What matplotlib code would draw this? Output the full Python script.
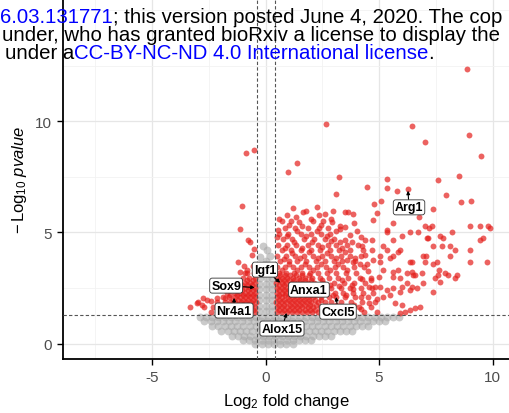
import numpy as np
import matplotlib.pyplot as plt
from matplotlib.ticker import MultipleLocator

plt.rcParams['font.family'] = ['Liberation Sans', 'DejaVu Sans']
plt.rcParams['mathtext.fontset'] = 'custom'
plt.rcParams['mathtext.rm'] = 'Liberation Sans'
plt.rcParams['mathtext.it'] = 'Liberation Sans:italic'
plt.rcParams['mathtext.bf'] = 'Liberation Sans:bold'
plt.rcParams['axes.unicode_minus'] = False

# ---- data ----
# significant, up-regulated: dense part as rows (y, x values)
up_rows_y = [1.42, 1.64, 1.86, 2.08, 2.3, 2.52, 2.74, 2.96, 3.2, 3.45,
             3.7, 3.95, 4.2, 4.45, 4.7, 4.95, 5.2, 5.5, 5.8]
up_rows_x = [
    [0.48, 0.7, 0.93, 1.15, 1.38, 1.6, 1.83, 2.05, 2.3, 2.6, 2.95, 3.35, 3.8, 4.35, 4.9],
    [0.5, 0.72, 0.95, 1.18, 1.4, 1.62, 1.85, 2.08, 2.4, 2.75, 3.15, 3.6, 4.1, 4.65],
    [0.47, 0.68, 0.9, 1.13, 1.35, 1.58, 1.8, 2.02, 2.3, 2.6, 2.9, 3.3, 3.75, 4.25, 4.8],
    [0.52, 0.74, 0.97, 1.2, 1.42, 1.65, 1.88, 2.1, 2.45, 2.8, 3.1, 3.5, 3.95, 4.5],
    [0.49, 0.7, 0.92, 1.15, 1.37, 1.6, 1.83, 2.05, 2.35, 2.7, 3.05, 3.4, 3.85, 4.3, 4.75],
    [0.5, 0.73, 0.95, 1.18, 1.4, 1.63, 1.86, 2.1, 2.5, 2.9, 3.3, 3.7, 4.2, 4.7],
    [0.47, 0.7, 0.92, 1.15, 1.38, 1.6, 1.85, 2.15, 2.55, 3.0, 3.45, 3.9, 4.4],
    [0.5, 0.72, 0.95, 1.2, 1.45, 1.75, 2.05, 2.4, 2.8, 3.2, 3.65, 4.15, 4.65],
    [0.6, 0.9, 1.25, 1.6, 1.95, 2.3, 2.7, 3.1, 3.55, 4.0],
    [0.5, 0.85, 1.2, 1.55, 1.9, 2.25, 2.65, 3.05, 3.4, 3.9, 4.35],
    [0.65, 1.05, 1.4, 1.8, 2.2, 2.6, 3.0, 3.35, 3.95],
    [0.5, 0.9, 1.3, 1.7, 2.1, 2.5, 2.9, 3.3, 3.7, 4.2],
    [0.7, 1.1, 1.55, 2.0, 2.4, 2.85, 3.25, 3.7],
    [0.55, 0.95, 1.35, 1.85, 2.3, 2.75, 3.1, 3.6, 4.05],
    [0.75, 1.15, 1.7, 2.15, 2.6, 3.0],
    [0.6, 1.0, 1.55, 2.0, 2.45, 2.85],
    [0.85, 1.3, 1.85, 2.35, 2.75],
    [0.7, 1.1, 2.1, 2.55],
    [0.95, 2.35],
]
# in-between rows of the solid block next to the cut-off
up_fill_y = [1.53, 1.75, 1.97, 2.19, 2.41, 2.63, 2.85, 3.07]
up_fill_x = [
    [0.59, 0.81, 1.04, 1.27, 1.49, 1.72, 1.94, 2.17, 2.45],
    [0.6, 0.83, 1.06, 1.29, 1.51, 1.73, 1.96, 2.2],
    [0.58, 0.8, 1.02, 1.25, 1.47, 1.7, 1.92, 2.16, 2.42],
    [0.61, 0.84, 1.07, 1.3, 1.53, 1.76, 1.98, 2.24],
    [0.59, 0.81, 1.04, 1.26, 1.49, 1.72, 1.95, 2.2],
    [0.6, 0.83, 1.06, 1.29, 1.52, 1.75, 1.97],
    [0.58, 0.81, 1.03, 1.27, 1.5, 1.73, 2.0],
    [0.62, 0.85, 1.08, 1.33, 1.6, 1.9],
]
# significant, up-regulated: scattered points (log2FC, -log10 p)
up_scatter = [
    (2.66, 9.86), (8.87, 12.34), (1.38, 8.11), (0.99, 7.70), (3.23, 7.48),
    (3.1, 6.71), (4.47, 7.03), (2.26, 6.13), (1.65, 5.9), (2.97, 5.95),
    (3.5, 5.9), (3.63, 5.9), (3.85, 5.81), (2.93, 5.45), (3.28, 5.27),
    (3.89, 5.41), (1.47, 5.45), (6.45, 9.77), (8.96, 9.37), (7.02, 9.05),
    (9.49, 8.42), (8.52, 7.52), (7.59, 7.34), (5.35, 7.39), (5.35, 6.98),
    (5.79, 6.85), (7.95, 6.67), (8.61, 6.35), (9.05, 6.4), (5.09, 6.4),
    (4.78, 6.26), (4.91, 5.86), (7.37, 6.04), (6.76, 5.68), (4.73, 5.54),
    (7.02, 5.27), (7.33, 5.27), (9.0, 5.27), (9.44, 5.27), (9.8, 5.27),
    (9.89, 5.18), (5.61, 5.41), (3.28, 5.14), (3.5, 5.23), (4.03, 5.05),
    (5.35, 5.09), (6.36, 5.0), (6.71, 5.0), (7.2, 5.18), (9.58, 4.73),
    (4.38, 4.68), (4.69, 4.64), (3.5, 4.68), (3.28, 4.55), (5.61, 4.68),
    (7.11, 4.73), (7.68, 4.82), (7.77, 4.37), (8.12, 4.37), (8.34, 4.23),
    (7.37, 4.37), (5.92, 4.19), (5.35, 4.23), (4.29, 4.23), (4.69, 4.23),
    (7.06, 3.92), (6.36, 3.65), (8.12, 3.96), (5.48, 3.87), (4.73, 3.78),
    (5.04, 3.69), (4.47, 3.56), (3.58, 3.78), (3.85, 3.65), (7.55, 3.65),
    (7.64, 3.33), (6.89, 3.2), (6.23, 3.2), (6.58, 3.11), (5.61, 3.24),
    (8.43, 3.11), (5.35, 5.0), (5.17, 4.37), (5.04, 3.92), (6.0, 4.82),
    (7.15, 4.77), (7.81, 4.77), (8.21, 5.0), (9.0, 4.19), (9.44, 4.68),
    (9.0, 3.65), (9.75, 3.69), (5.61, 3.92), (5.83, 4.14), (6.93, 3.92),
    (7.02, 3.65), (7.37, 3.56), (6.45, 3.65), (5.17, 3.33), (5.83, 3.33),
    (5.61, 3.02), (5.92, 2.97), (6.45, 3.24), (6.49, 3.11), (7.46, 2.97),
    (7.59, 3.11), (7.9, 3.2), (8.03, 3.11), (8.34, 2.97), (7.68, 2.79),
    (5.04, 2.57), (5.35, 2.43), (5.61, 2.52), (6.0, 2.57), (6.23, 2.75),
    (6.45, 2.57), (6.67, 2.52), (6.93, 2.75), (5.17, 2.12), (5.48, 2.21),
    (5.92, 2.34), (6.36, 2.43), (7.37, 2.34), (5.7, 1.85), (6.0, 1.76),
    (5.92, 1.4), (6.14, 1.44), (6.36, 1.53), (6.58, 1.62), (6.8, 1.67),
    (6.27, 6.94), (4.9, 2.0), (4.8, 2.55), (5.0, 3.0), (4.65, 2.85),
    (0.7, 3.32), (1.05, 3.58), (1.4, 3.3), (1.75, 3.6), (2.1, 3.33), (2.45, 3.57),
    (2.85, 3.3), (3.2, 3.58), (3.6, 3.32), (4.15, 3.6), (4.5, 3.25),
    (0.8, 3.82), (1.15, 4.08), (1.5, 3.85), (1.9, 4.1), (2.3, 3.83), (2.7, 4.07),
    (3.1, 3.85), (3.5, 4.1), (3.95, 3.85), (4.4, 4.0),
    (0.85, 4.32), (1.25, 4.58), (1.6, 4.3), (2.05, 4.57), (2.5, 4.33), (2.9, 4.6),
    (3.35, 4.3), (3.8, 4.55), (4.25, 4.4),
    (0.5, 4.8), (0.95, 4.85), (1.4, 5.05), (1.8, 4.82), (2.25, 5.07), (2.7, 4.85),
    (3.1, 5.08), (3.7, 4.9), (4.2, 4.8),
    (1.05, 5.35), (1.6, 5.3), (2.0, 5.62), (2.45, 5.33), (2.9, 5.6), (0.55, 5.1),
    (1.35, 5.7), (1.8, 5.95), (2.6, 5.85), (1.2, 6.1), (0.6, 5.6),
    (2.6, 2.42), (2.95, 2.18), (3.25, 2.6), (3.55, 2.2), (3.85, 2.45), (4.2, 2.1),
    (4.55, 2.55), (2.75, 1.55), (3.1, 1.75), (3.45, 1.5), (3.9, 1.75), (4.2, 1.55),
    (4.55, 1.85), (2.5, 2.85), (2.85, 2.65), (3.35, 2.85), (3.8, 2.65), (4.25, 2.9),
]
# significant, down-regulated
down_rows_y = [1.42, 1.64, 1.86, 2.08, 2.3, 2.52, 2.74, 2.96, 3.2, 3.5]
down_rows_x = [
    [-0.45, -0.67, -0.9, -1.12, -1.35, -1.6, -1.85, -2.1, -2.4],
    [-0.47, -0.7, -0.92, -1.15, -1.4, -1.65, -1.95, -2.3, -2.7],
    [-0.44, -0.66, -0.88, -1.1, -1.33, -1.55, -1.8, -2.15],
    [-0.46, -0.68, -0.9, -1.12, -1.35, -1.6, -1.9],
    [-0.45, -0.67, -0.9, -1.13, -1.36, -1.7],
    [-0.47, -0.7, -0.93, -1.18, -1.45],
    [-0.45, -0.68, -0.92, -1.2],
    [-0.48, -0.72, -0.98],
    [-0.5, -0.8],
    [-0.55, -0.95],
]
down_fill_y = [1.53, 1.75, 1.97, 2.19, 2.41, 2.63, 2.85]
down_fill_x = [
    [-0.56, -0.79, -1.01, -1.24, -1.47, -1.72],
    [-0.58, -0.81, -1.03, -1.27, -1.52],
    [-0.55, -0.77, -0.99, -1.21, -1.44],
    [-0.57, -0.79, -1.01, -1.24],
    [-0.56, -0.78, -1.02, -1.25],
    [-0.58, -0.81, -1.05],
    [-0.57, -0.8],
]
down_scatter = [
    (-0.86, 8.56), (-0.51, 8.69), (-1.04, 6.17), (-0.78, 4.68), (-0.69, 4.55),
    (-1.13, 5.14), (-1.21, 3.65), (-1.13, 3.24), (-0.91, 3.2), (-2.0, 2.52),
    (-2.32, 2.48), (-2.76, 2.07), (-2.98, 1.89), (-2.58, 1.98), (-2.4, 1.94),
    (-2.14, 2.07), (-1.79, 2.07), (-1.57, 2.21), (-3.02, 1.85), (-2.8, 1.76),
    (-3.33, 1.67), (-0.82, 3.33), (-0.6, 4.0), (-0.5, 4.25),
]
# not significant
grey_rows_y = [1.22, 1.0, 0.78, 0.56, 0.35, 0.16, -0.02]
grey_rows_x = [
    [-2.9, -2.62, -2.35, -2.08, -1.8, -1.53, -1.25, -0.98, -0.7, -0.43, -0.15, 0.12, 0.4,
     0.67, 0.95, 1.22, 1.5, 1.77, 2.05, 2.32, 2.6, 2.88, 3.15, 3.43, 3.7, 3.98, 4.25, 4.53,
     4.8, 5.08, 5.35, 5.62, 5.9],
    [-2.7, -2.42, -2.15, -1.88, -1.6, -1.33, -1.05, -0.78, -0.5, -0.22, 0.05, 0.33, 0.6,
     0.88, 1.15, 1.43, 1.7, 1.98, 2.25, 2.53, 2.8, 3.08, 3.35, 3.63, 3.9, 4.18, 4.45, 4.72,
     5.0, 5.25],
    [-2.35, -2.08, -1.8, -1.53, -1.25, -0.98, -0.7, -0.43, -0.15, 0.12, 0.4, 0.67, 0.95,
     1.22, 1.5, 1.77, 2.05, 2.32, 2.6, 2.88, 3.15, 3.43, 3.7, 3.98, 4.25, 4.5],
    [-1.95, -1.68, -1.4, -1.13, -0.85, -0.58, -0.3, -0.03, 0.25, 0.52, 0.8, 1.07, 1.35,
     1.62, 1.9, 2.17, 2.45, 2.72, 3.0, 3.27, 3.55, 3.8],
    [-1.5, -1.22, -0.95, -0.67, -0.4, -0.12, 0.15, 0.43, 0.7, 0.98, 1.25, 1.53, 1.8, 2.08,
     2.35, 2.62, 2.9],
    [-1.0, -0.72, -0.45, -0.17, 0.1, 0.38, 0.65, 0.93, 1.2, 1.48, 1.75, 2.0],
    [-0.45, -0.18, 0.1, 0.37, 0.65, 0.92, 1.2],
]
grey_strip = [
    (-0.3, 1.45), (0.0, 1.45), (0.3, 1.45), (-0.3, 1.7), (0.0, 1.7), (0.3, 1.7),
    (-0.3, 1.95), (0.0, 1.95), (0.3, 1.95), (-0.3, 2.2), (0.0, 2.2), (0.3, 2.2),
    (-0.28, 2.45), (0.02, 2.45), (0.3, 2.45), (-0.3, 2.7), (0.0, 2.7), (0.28, 2.7),
    (-0.25, 2.95), (0.05, 2.95), (0.3, 2.95), (-0.3, 3.2), (0.0, 3.2), (0.3, 3.2),
    (-0.2, 3.45), (0.15, 3.45), (0.0, 3.7), (-0.25, 3.9), (0.2, 3.95), (0.05, 4.2),
    (-0.1, 4.4),
]
# labelled genes: point and label position
gene_names = ['Igf1', 'Sox9', 'Nr4a1', 'Anxa1', 'Cxcl5', 'Alox15', 'Arg1']
gene_lfc = [0.69, -0.42, -1.39, 1.91, 3.1, 0.94, 6.27]
gene_logp = [2.7, 2.52, 2.12, 2.43, 2.16, 1.44, 6.94]
label_lfc = [-0.03, -1.74, -1.39, 1.91, 3.19, 0.72, 6.32]
label_logp = [3.33, 2.61, 1.49, 2.43, 1.44, 0.68, 6.13]

lfc_cut = 0.4
p_cut = -np.log10(0.05)


def rows_to_xy(rows_y, rows_x):
    xs, ys = [], []
    for y, row in zip(rows_y, rows_x):
        xs += row
        ys += [y] * len(row)
    return xs, ys


red_x, red_y = [], []
for ry, rx in [(up_rows_y, up_rows_x), (up_fill_y, up_fill_x),
               (down_rows_y, down_rows_x), (down_fill_y, down_fill_x)]:
    xs, ys = rows_to_xy(ry, rx)
    red_x += xs
    red_y += ys
for p in up_scatter + down_scatter:
    red_x.append(p[0])
    red_y.append(p[1])

gr_x, gr_y = rows_to_xy(grey_rows_y, grey_rows_x)
gr_x += [p[0] for p in grey_strip]
gr_y += [p[1] for p in grey_strip]

fig = plt.figure(figsize=(5.1, 4.14), dpi=100)
ax = fig.add_axes([63 / 510, 54 / 414, 1 - 63 / 510, 1 - 54 / 414])

ax.scatter(gr_x, gr_y, s=32, color='#a8a8a8', alpha=0.6, linewidths=0, zorder=2)
ax.scatter(red_x, red_y, s=18, color='#e4201c', alpha=0.7, linewidths=0, zorder=2)

for xv in (-lfc_cut, lfc_cut):
    ax.axvline(xv, color='#555555', lw=0.8, dashes=(3, 2), zorder=3)
ax.axhline(p_cut, color='#555555', lw=0.8, dashes=(3, 2), zorder=3)

for name, px, py, lx, ly in zip(gene_names, gene_lfc, gene_logp, label_lfc, label_logp):
    ax.annotate(name, xy=(px, py), xytext=(lx, ly), fontsize=9, fontweight='bold',
                ha='center', va='center', zorder=5,
                bbox=dict(boxstyle='round,pad=0.12,rounding_size=0.2', fc='white',
                          ec='#333333', lw=0.6),
                arrowprops=dict(arrowstyle='-|>', color='black', lw=0.8,
                                mutation_scale=5, shrinkA=0, shrinkB=1))

ax.set_xlim(-8.93, 10.77)
ax.set_ylim(-0.69, 15.5)
ax.set_xticks([-5, 0, 5, 10])
ax.set_yticks([0, 5, 10])
ax.xaxis.set_minor_locator(MultipleLocator(2.5))
ax.yaxis.set_minor_locator(MultipleLocator(2.5))
ax.grid(which='major', color='#e6e6e6', lw=0.9, zorder=0)
ax.grid(which='minor', color='#f2f2f2', lw=0.6, zorder=0)
ax.set_axisbelow(True)
ax.tick_params(which='minor', length=0)
ax.tick_params(which='major', length=4, width=1, color='black',
               labelsize=11, labelcolor='#4d4d4d', pad=4)
for s in ('top', 'right'):
    ax.spines[s].set_visible(False)
for s in ('left', 'bottom'):
    ax.spines[s].set_linewidth(1.3)

ax.set_xlabel(r'$\mathrm{Log_2\ fold\ change}$', fontsize=12, labelpad=5)
ax.set_ylabel(r'$-\,\mathrm{Log_{10}}\ \mathit{pvalue}$', fontsize=12, labelpad=4)

# preprint header printed over the figure
hfs = 14.7
blue = '#0000ff'
t = fig.text(0, 1 - 23 / 414, '6.03.131771', color=blue, fontsize=hfs, ha='left', va='baseline')
ax.annotate('; this version posted June 4, 2020. The cop', xy=(1, 0), xycoords=t,
            ha='left', va='bottom', fontsize=hfs, color='black', annotation_clip=False)
fig.text(2 / 510, 1 - 41 / 414, 'under, who has granted bioRxiv a license to display the',
         color='black', fontsize=hfs, ha='left', va='baseline')
t1 = fig.text(5 / 510, 1 - 59 / 414, 'under a', color='black', fontsize=hfs, ha='left', va='baseline')
t2 = ax.annotate('CC-BY-NC-ND 4.0 International license', xy=(1, 0), xycoords=t1,
                 ha='left', va='bottom', fontsize=hfs, color=blue, annotation_clip=False)
ax.annotate('.', xy=(1, 0), xycoords=t2, ha='left', va='bottom', fontsize=hfs,
            color='black', annotation_clip=False)

fig.savefig('out.png', dpi=100)
